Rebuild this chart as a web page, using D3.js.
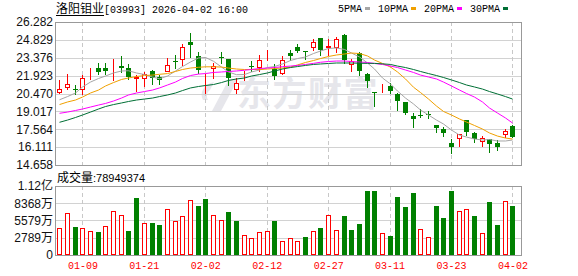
<!DOCTYPE html>
<html><head><meta charset="utf-8">
<script src="https://cdn.jsdelivr.net/npm/d3@7"></script>
<style>html,body{margin:0;padding:0;background:#fff;}svg{display:block;}</style>
</head><body>
<svg id="chart" width="578" height="276"></svg>
<script>
// ---------- data ----------
const stockName = "洛阳钼业";
const stockInfo = "[03993] 2026-04-02 16:00";
const dates = ["01-06","01-07","01-08","01-09","01-12","01-13","01-14","01-15","01-16","01-19",
"01-20","01-21","01-22","01-23","01-26","01-27","01-28","01-29","01-30","02-02",
"02-03","02-04","02-05","02-06","02-09","02-10","02-11","02-12","02-13","02-16",
"02-20","02-23","02-24","02-25","02-26","02-27","03-02","03-03","03-04","03-05",
"03-06","03-09","03-10","03-11","03-12","03-13","03-16","03-17","03-18","03-19",
"03-20","03-23","03-24","03-25","03-26","03-27","03-30","03-31","04-01","04-02"];
const open  = [20.59,21.00,20.84,20.81,22.44,22.57,22.57,22.44,22.70,22.52,
21.77,21.70,22.26,21.81,22.32,23.14,23.31,24.66,23.49,21.22,
22.58,23.46,23.27,20.83,22.03,22.72,22.62,23.40,22.50,22.10,
23.80,24.21,23.92,24.22,24.98,24.27,24.25,25.23,22.83,23.76,
22.05,20.58,20.90,21.08,20.47,19.75,18.68,18.72,18.80,17.91,
17.56,16.47,16.83,18.31,17.26,16.58,16.77,16.47,17.15,17.83];
const high  = [21.57,22.03,21.14,21.95,22.52,22.97,22.97,23.25,23.52,22.90,
21.97,22.19,22.38,21.97,23.35,23.64,24.49,25.39,23.84,22.05,
22.91,23.84,23.30,21.70,22.26,23.10,23.64,23.99,22.87,23.52,
24.00,24.49,23.93,24.90,25.00,24.86,25.06,25.30,23.30,23.88,
22.10,20.60,21.24,21.32,20.50,19.80,18.91,19.23,19.08,17.95,
17.77,16.81,17.20,18.35,17.30,17.01,16.80,16.69,17.62,17.95];
const low   = [20.55,20.81,20.43,20.43,21.65,22.03,22.08,21.54,22.24,21.62,
20.65,21.10,21.24,21.24,22.28,22.54,22.79,23.40,22.14,20.51,
21.73,22.95,21.20,20.49,21.59,22.28,22.30,23.19,21.65,22.05,
23.20,23.84,23.24,24.00,23.60,23.64,23.88,22.95,22.30,21.97,
21.02,19.45,20.59,20.51,19.12,18.78,17.77,18.56,18.45,17.36,
16.99,15.66,16.22,17.13,16.53,16.24,15.74,15.87,16.97,16.93];
const close = [20.81,21.24,20.76,21.73,22.48,22.24,22.32,22.50,22.52,21.82,
21.79,22.03,21.73,21.56,22.76,23.02,24.25,24.45,22.36,21.24,
22.70,23.40,21.74,21.30,22.06,22.66,23.19,23.43,21.93,23.17,
23.52,23.95,23.88,24.66,24.00,24.30,24.86,23.19,23.15,22.32,
21.49,20.53,20.93,20.69,19.86,18.86,18.42,18.68,18.72,17.64,
17.22,16.12,17.18,17.36,16.78,16.82,16.34,16.10,17.42,16.96];
const volume = [43400000,67700000,45000000,44300000,39000000,37400000,46600000,71000000,64500000,39000000,
92600000,51500000,52000000,48700000,74200000,54700000,62800000,88800000,79600000,90900000,
64500000,56400000,69800000,55200000,32000000,27100000,36900000,38500000,55200000,22200000,
27100000,22200000,29200000,38500000,43800000,64500000,40100000,63300000,40600000,50300000,
103900000,103900000,35200000,30900000,94200000,78000000,100700000,41700000,28700000,79600000,
60100000,103900000,71000000,74200000,63300000,35200000,86100000,48700000,87200000,78949374];
const ma5  = [19.96,20.22,20.51,21.00,21.40,21.69,21.89,22.14,22.30,22.32,
22.14,22.01,21.81,21.67,21.89,22.30,22.66,23.03,23.36,23.40,
23.09,22.62,22.22,22.00,22.01,22.22,22.38,22.58,22.66,22.87,
23.15,23.31,23.44,23.72,23.92,24.13,24.17,24.05,23.76,23.44,
22.95,22.46,21.73,21.24,20.67,20.10,19.62,19.13,18.72,18.31,
17.99,17.50,17.09,16.93,16.77,16.69,16.73,16.61,16.61,16.69];
const ma10 = [19.57,19.78,19.94,20.18,20.51,20.75,21.08,21.36,21.61,21.73,
21.85,21.93,21.97,22.03,22.09,22.26,22.42,22.54,22.60,22.64,
22.64,22.62,22.54,22.46,22.42,22.42,22.42,22.46,22.50,22.54,
22.62,22.79,22.99,23.15,23.31,23.48,23.60,23.68,23.76,23.72,
23.52,23.19,22.91,22.62,22.22,21.65,20.98,20.55,20.02,19.45,
19.01,18.72,18.40,18.15,17.87,17.58,17.26,17.01,16.85,16.77];
const ma20 = [18.86,18.96,19.09,19.21,19.37,19.53,19.66,19.86,20.10,20.35,
20.51,20.63,20.75,20.92,21.16,21.40,21.69,21.93,22.05,22.09,
22.18,22.22,22.26,22.30,22.36,22.42,22.50,22.54,22.58,22.65,
22.70,22.75,22.83,22.92,23.01,23.07,23.11,23.11,23.07,23.03,
22.99,22.91,22.83,22.70,22.58,22.38,22.18,21.97,21.81,21.65,
21.40,21.08,20.75,20.47,20.18,19.78,19.29,18.88,18.48,18.07];
const ma30 = [18.13,18.31,18.52,18.72,18.96,19.21,19.41,19.57,19.70,19.82,
19.94,20.02,20.10,20.22,20.35,20.51,20.71,20.92,21.04,21.12,
21.20,21.36,21.53,21.65,21.73,21.89,22.01,22.14,22.30,22.46,
22.58,22.66,22.75,22.83,22.87,22.91,22.95,22.95,22.95,22.93,
22.92,22.92,22.88,22.83,22.70,22.58,22.42,22.26,22.09,21.93,
21.77,21.57,21.36,21.16,21.00,20.83,20.63,20.43,20.22,20.02];
const maNames = ["5PMA","10PMA","20PMA","30PMA"];
const priceTicks  = [14.658,16.111,17.564,19.017,20.470,21.923,23.376,24.829,26.282];
const priceLabels = ["14.658","16.111","17.564","19.017","20.470","21.923","23.376","24.829","26.282"];
const volTicks  = [0,27890000,55790000,83680000,111570000];
const volLabels = ["0","2789万","5579万","8368万","1.12亿"];
const dateTickIdx = [3,11,19,27,35,43,51,59];
const volTitle = "成交量";

// ---------- layout ----------
const svg = d3.select("#chart");
const X0 = 55, X1 = 522, P_TOP = 22, P_BOT = 165, V_TOP = 186, V_BOT = 255;
const RED = "#ff0000", GREEN = "#008000";
const maColors = ["#a6a6a6","#f0a000","#ff00ff","#006f35"];
const SANS = "'Liberation Sans', Arial, sans-serif";
const MONO = "'Liberation Mono', 'DejaVu Sans Mono', monospace";
const CJK = "'Noto Sans CJK SC', sans-serif";

const n = dates.length;
const x = d3.scaleBand().domain(d3.range(n)).range([56, 516.8]).paddingInner(0.35).paddingOuter(0.175);
const left = i => Math.round(x(i));
const cx = i => left(i) + 2.5;
const y = d3.scaleLinear().domain([priceTicks[0], priceTicks[priceTicks.length-1]]).range([P_BOT, P_TOP]);
const yv = d3.scaleLinear().domain([0, volTicks[volTicks.length-1]]).range([V_BOT, V_TOP]);
const snap = v => Math.round(v) + 0.5;

// ---------- watermark ----------
const wm = svg.append("g").attr("fill", "#e6e6eb");
wm.append("path").attr("d", "M212,111 L221,111 L238,79 L229,79 Z M203,100 C199,93 204,84 214,82 L210,90 C207,92 206,96 208,100 Z");
wm.append("text").attr("x", 237).attr("y", 106).attr("font-family", CJK).attr("font-weight", 700)
  .attr("font-size", 34).attr("letter-spacing", 1.5).text("东方财富");

// ---------- grid ----------
const grid = svg.append("g");
priceTicks.slice(1, -1).forEach(t => grid.append("line").attr("x1", X0).attr("x2", X1)
  .attr("y1", snap(y(t))).attr("y2", snap(y(t))).attr("stroke", "#d2d2d2"));
volTicks.slice(1, -1).forEach(t => grid.append("line").attr("x1", X0).attr("x2", X1)
  .attr("y1", snap(yv(t))).attr("y2", snap(yv(t))).attr("stroke", "#d2d2d2"));
dateTickIdx.forEach(i => {
  [[P_TOP, P_BOT], [V_TOP, V_BOT]].forEach(([a, b]) => grid.append("line")
    .attr("x1", cx(i)).attr("x2", cx(i)).attr("y1", a).attr("y2", b)
    .attr("stroke", "#c8c8c8").attr("stroke-dasharray", "4,3"));
});

// ---------- candles ----------
const cg = svg.append("g");
d3.range(n).forEach(i => {
  const up = close[i] >= open[i];
  const col = up ? RED : GREEN;
  cg.append("line").attr("x1", cx(i)).attr("x2", cx(i))
    .attr("y1", Math.round(y(high[i]))).attr("y2", Math.round(y(low[i])) + 1).attr("stroke", col);
  const t = Math.round(y(Math.max(open[i], close[i])));
  const b = Math.round(y(Math.min(open[i], close[i])));
  if (up) {
    cg.append("rect").attr("x", left(i) + 0.5).attr("y", t + 0.5).attr("width", 4)
      .attr("height", Math.max(0, b - t)).attr("fill", "#fff").attr("stroke", RED);
  } else {
    cg.append("rect").attr("x", left(i)).attr("y", t).attr("width", 5)
      .attr("height", Math.max(1, b - t)).attr("fill", GREEN);
  }
});

// ---------- moving averages ----------
[ma5, ma10, ma20, ma30].forEach((arr, k) => {
  svg.append("path").datum(arr)
    .attr("d", d3.line().x((d, i) => cx(i)).y(d => y(d)))
    .attr("fill", "none").attr("stroke", maColors[k]).attr("stroke-width", 1);
});

// ---------- volume ----------
const vg = svg.append("g");
d3.range(n).forEach(i => {
  const prev = i > 0 ? close[i-1] : open[i];
  const up = close[i] >= prev;
  const t = Math.round(yv(volume[i]));
  if (up) {
    vg.append("rect").attr("x", left(i) + 0.5).attr("y", t + 0.5).attr("width", 4)
      .attr("height", V_BOT - 1 - t).attr("fill", "#fff").attr("stroke", RED);
  } else {
    vg.append("rect").attr("x", left(i)).attr("y", t).attr("width", 5)
      .attr("height", V_BOT - t).attr("fill", GREEN);
  }
});

// ---------- borders ----------
svg.append("rect").attr("x", X0 + 0.5).attr("y", P_TOP + 0.5).attr("width", X1 - X0 - 1)
  .attr("height", P_BOT - P_TOP).attr("fill", "none").attr("stroke", "#999");
svg.append("rect").attr("x", X0 + 0.5).attr("y", V_TOP + 0.5).attr("width", X1 - X0 - 1)
  .attr("height", V_BOT - V_TOP).attr("fill", "none").attr("stroke", "#999");

// ---------- axes ----------
const ay = svg.append("g").attr("transform", `translate(${X0},0)`)
  .call(d3.axisLeft(y).tickValues(priceTicks).tickFormat((d, i) => priceLabels[i]).tickSize(0).tickPadding(2));
const av = svg.append("g").attr("transform", `translate(${X0},0)`)
  .call(d3.axisLeft(yv).tickValues(volTicks).tickFormat((d, i) => volLabels[i]).tickSize(0).tickPadding(2));
[ay, av].forEach(g => {
  g.select(".domain").remove();
  g.selectAll("text").attr("font-family", SANS + ", " + CJK).attr("font-size", 12).attr("fill", "#111");
});
const ax = svg.append("g").attr("transform", `translate(0,${V_BOT})`)
  .call(d3.axisBottom(x).tickValues(dateTickIdx).tickFormat(i => dates[i]).tickSize(0).tickPadding(7));
ax.select(".domain").remove();
ax.selectAll("text").attr("font-family", MONO).attr("font-size", 10).attr("fill", RED);

// ---------- titles ----------
const tName = svg.append("text").attr("x", 56).attr("y", 13).attr("font-family", CJK)
  .attr("font-size", 12).attr("fill", "#000").text(stockName);
const wName = tName.node().getComputedTextLength();
svg.append("line").attr("x1", 56).attr("x2", 56 + wName).attr("y1", 15.5).attr("y2", 15.5).attr("stroke", "#000");
svg.append("text").attr("x", 56 + wName).attr("y", 13).attr("font-family", MONO)
  .attr("font-size", 10).attr("fill", "#000").text(stockInfo);

let lx = 338;
maNames.forEach((nm, k) => {
  const t = svg.append("text").attr("x", lx).attr("y", 12).attr("font-family", MONO)
    .attr("font-size", 10).attr("fill", "#000").text(nm);
  const w = t.node().getComputedTextLength();
  svg.append("rect").attr("x", Math.round(lx + w + 3)).attr("y", 7).attr("width", 5).attr("height", 3)
    .attr("fill", maColors[k]);
  lx += w + 3 + 5 + 8;
});

const vt = svg.append("text").attr("x", 57).attr("y", 182).attr("font-family", CJK)
  .attr("font-size", 12).attr("fill", "#000").text(volTitle);
const wv = vt.node().getComputedTextLength();
svg.append("text").attr("x", 57 + wv).attr("y", 182).attr("font-family", SANS)
  .attr("font-size", 11).attr("fill", "#000").text(":" + volume[n-1]);
</script>
</body></html>
